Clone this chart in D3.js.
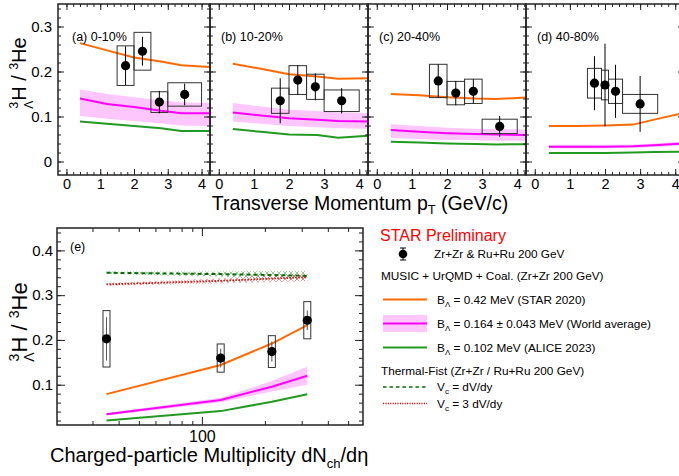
<!DOCTYPE html>
<html lang="en">
<head>
<meta charset="UTF-8">
<title>Hypertriton ratio</title>
<style>
body{margin:0;background:#fff;}
text{font-family:"Liberation Sans",Arial,Helvetica,sans-serif;fill:#000;}
</style>
</head>
<body>
<script src="https://cdn.jsdelivr.net/npm/d3@7/dist/d3.min.js"></script>
<script>
// ---------------- data: pT panels ----------------
var panelNames = ['(a) 0-10%', '(b) 10-20%', '(c) 20-40%', '(d) 40-80%'];
var ptCenters = [[1.75, 2.25, 2.75, 3.5], [1.75, 2.25, 2.75, 3.5], [1.75, 2.25, 2.75, 3.5], [1.7, 2.0, 2.3, 3.0]];
var binLow  = [[1.5, 2.0, 2.5, 3.0], [1.5, 2.0, 2.5, 3.0], [1.5, 2.0, 2.5, 3.0], [1.5, 1.9, 2.1, 2.5]];
var binHigh = [[2.0, 2.5, 3.0, 4.0], [2.0, 2.5, 3.0, 4.0], [2.0, 2.5, 3.0, 4.0], [1.9, 2.1, 2.5, 3.5]];
var ratio   = [[0.213, 0.245, 0.132, 0.149], [0.135, 0.181, 0.166, 0.135], [0.179, 0.152, 0.156, 0.078], [0.174, 0.170, 0.156, 0.128]];
var statErr = [[0.043, 0.032, 0.025, 0.024], [0.050, 0.033, 0.030, 0.028], [0.037, 0.027, 0.027, 0.023], [0.060, 0.092, 0.059, 0.062]];
var sysErr  = [[0.044, 0.042, 0.023, 0.026], [0.028, 0.032, 0.028, 0.024], [0.037, 0.026, 0.027, 0.016], [0.033, 0.033, 0.027, 0.021]];

// model curves (MUSIC + UrQMD + Coal.)
var modelPt = [0.4, 1.2, 2.0, 2.8, 3.4, 4.25];
var starCurve  = [[0.263, 0.247, 0.231, 0.222, 0.214, 0.210], [0.217, 0.206, 0.194, 0.189, 0.184, 0.185], [0.150, 0.147, 0.143, 0.140, 0.139, 0.142], [0.079, 0.079, 0.080, 0.082, 0.093, 0.108]];
var worldCurve = [[0.140, 0.128, 0.121, 0.113, 0.107, 0.107], [0.109, 0.102, 0.096, 0.093, 0.090, 0.089], [0.070, 0.066, 0.063, 0.061, 0.060, 0.059], [0.033, 0.033, 0.033, 0.034, 0.036, 0.040]];
var worldHigh  = [[0.160, 0.150, 0.143, 0.136, 0.131, 0.130], [0.130, 0.122, 0.115, 0.112, 0.109, 0.108], [0.083, 0.079, 0.075, 0.073, 0.072, 0.071], [0.037, 0.037, 0.037, 0.038, 0.040, 0.045]];
var worldLow   = [[0.101, 0.095, 0.090, 0.085, 0.080, 0.079], [0.089, 0.084, 0.079, 0.076, 0.074, 0.073], [0.052, 0.050, 0.048, 0.047, 0.046, 0.046], [0.029, 0.029, 0.029, 0.030, 0.032, 0.036]];
var aliceCurve = [[0.089, 0.084, 0.079, 0.074, 0.068, 0.068], [0.072, 0.066, 0.060, 0.059, 0.053, 0.057], [0.044, 0.042, 0.040, 0.039, 0.038, 0.0385], [0.019, 0.019, 0.019, 0.020, 0.021, 0.022]];

// ---------------- data: multiplicity panel (e) ----------------
var dNch   = [35, 123, 216, 319];
var ratioE = [0.2025, 0.1595, 0.174, 0.244];
var statE  = [0.0485, 0.021, 0.0225, 0.022];
var sysE   = [0.063, 0.0315, 0.0355, 0.0415];
var starE      = [0.079, 0.144, 0.192, 0.233];
var worldE     = [0.034, 0.066, 0.0955, 0.120];
var worldHighE = [0.037, 0.071, 0.108, 0.140];
var worldLowE  = [0.031, 0.061, 0.085, 0.100];
var aliceE     = [0.020, 0.041, 0.062, 0.0786];
var tfV1    = [0.350, 0.347, 0.345, 0.343];
var tfV1Err = [0.003, 0.006, 0.009, 0.011];
var tfV3    = [0.324, 0.332, 0.337, 0.340];
var tfV3Err = [0.003, 0.006, 0.008, 0.009];

var yTicksTop = [0, 0.1, 0.2, 0.3];
var ptTicks = [0, 1, 2, 3, 4];
var yTicksE = [0.1, 0.2, 0.3, 0.4];
var dnchTicks = [100];
var dnchMinor = [30, 40, 50, 60, 70, 80, 90, 200, 300, 400, 500];

// ---------------- layout ----------------
var width = 679, height = 476;
var colOrange = '#ff6a00', colMagenta = '#ff00ff', colBand = '#fdc6fd', colGreen = '#229a22';
var colDash = '#0b6b0b', colDot = '#cc1111', colFrame = '#222';

var svg = d3.select('body').append('svg')
		.attr('width', width)
		.attr('height', height);

var defs = svg.append('defs');
function hatch(id, color) {
	var p = defs.append('pattern')
		.attr('id', id)
		.attr('patternUnits', 'userSpaceOnUse')
		.attr('width', 6).attr('height', 6);
	p.append('path').attr('d', 'M0,0L6,6M0,6L6,0')
		.attr('stroke', color).attr('stroke-width', 0.8).attr('stroke-opacity', 0.6);
}
hatch('hatchGreen', '#2a9a2a');
hatch('hatchRed', '#e05050');

var panelX = [[58, 210], [210, 368], [368, 526], [526, 684]];
var topY = [175, 4];
var yTop = d3.scaleLinear().domain([-0.03, 0.35]).range(topY);

function styleAxis(g) {
	g.select('.domain').remove();
	g.selectAll('line').attr('stroke', colFrame).attr('stroke-width', 1);
	g.selectAll('text').attr('fill', '#000');
}

function lineGen(x, y, xs) {
	return d3.line()
		.x(function(d, i) { return x(xs[i]); })
		.y(function(d) { return y(d); });
}

// ---------------- top panels ----------------
panelNames.forEach(function(name, p) {
	var x = d3.scaleLinear().domain([-0.25, 4.25]).range(panelX[p]);
	var g = svg.append('g');

	// pink band + curves
	var band = d3.area()
		.x(function(d, i) { return x(modelPt[i]); })
		.y0(function(d, i) { return yTop(worldLow[p][i]); })
		.y1(function(d) { return yTop(d); });
	g.append('path').attr('d', band(worldHigh[p])).attr('fill', colBand);
	g.append('path').attr('d', lineGen(x, yTop, modelPt)(starCurve[p]))
		.attr('fill', 'none').attr('stroke', colOrange).attr('stroke-width', 2);
	g.append('path').attr('d', lineGen(x, yTop, modelPt)(worldCurve[p]))
		.attr('fill', 'none').attr('stroke', colMagenta).attr('stroke-width', 2);
	g.append('path').attr('d', lineGen(x, yTop, modelPt)(aliceCurve[p]))
		.attr('fill', 'none').attr('stroke', colGreen).attr('stroke-width', 2);

	// systematic boxes
	g.selectAll('.sys').data(ratio[p]).enter().append('rect')
		.attr('class', 'sys')
		.attr('x', function(d, i) { return x(binLow[p][i]); })
		.attr('width', function(d, i) { return x(binHigh[p][i]) - x(binLow[p][i]); })
		.attr('y', function(d, i) { return yTop(d + sysErr[p][i]); })
		.attr('height', function(d, i) { return yTop(d - sysErr[p][i]) - yTop(d + sysErr[p][i]); })
		.attr('fill', 'none').attr('stroke', '#333').attr('stroke-width', 1);
	// stat bars
	g.selectAll('.stat').data(ratio[p]).enter().append('line')
		.attr('class', 'stat')
		.attr('x1', function(d, i) { return x(ptCenters[p][i]); })
		.attr('x2', function(d, i) { return x(ptCenters[p][i]); })
		.attr('y1', function(d, i) { return yTop(d - statErr[p][i]); })
		.attr('y2', function(d, i) { return yTop(d + statErr[p][i]); })
		.attr('stroke', '#000').attr('stroke-width', 1);
	g.selectAll('.pt').data(ratio[p]).enter().append('circle')
		.attr('class', 'pt')
		.attr('cx', function(d, i) { return x(ptCenters[p][i]); })
		.attr('cy', function(d) { return yTop(d); })
		.attr('r', 4.6).attr('fill', '#000');

	// axes
	g.append('g').attr('transform', 'translate(0,' + topY[0] + ')')
		.call(d3.axisBottom(x).tickValues(ptTicks).tickSize(-6).tickPadding(3).tickFormat(d3.format('d')))
		.call(styleAxis)
		.selectAll('text').attr('font-size', 14.5).attr('dy', '0.74em');
	g.append('g').attr('transform', 'translate(0,' + topY[0] + ')')
		.call(d3.axisBottom(x).tickValues(d3.range(0, 4.21, 0.2)).tickSize(-3).tickFormat(''))
		.call(styleAxis);
	g.append('g').attr('transform', 'translate(0,' + topY[1] + ')')
		.call(d3.axisTop(x).tickValues(ptTicks).tickSize(-6).tickFormat(''))
		.call(styleAxis);
	g.append('g').attr('transform', 'translate(0,' + topY[1] + ')')
		.call(d3.axisTop(x).tickValues(d3.range(0, 4.21, 0.2)).tickSize(-3).tickFormat(''))
		.call(styleAxis);
	var yl = g.append('g').attr('transform', 'translate(' + panelX[p][0] + ',0)')
		.call(d3.axisLeft(yTop).tickValues(yTicksTop).tickSize(-6).tickPadding(4)
			.tickFormat(p === 0 ? d3.format('') : ''))
		.call(styleAxis);
	yl.selectAll('text').attr('font-size', 15).attr('dx', '-2');
	g.append('g').attr('transform', 'translate(' + panelX[p][0] + ',0)')
		.call(d3.axisLeft(yTop).tickValues(d3.range(-0.02, 0.35, 0.02)).tickSize(-3).tickFormat(''))
		.call(styleAxis);
	g.append('g').attr('transform', 'translate(' + panelX[p][1] + ',0)')
		.call(d3.axisRight(yTop).tickValues(yTicksTop).tickSize(-6).tickFormat(''))
		.call(styleAxis);
	g.append('g').attr('transform', 'translate(' + panelX[p][1] + ',0)')
		.call(d3.axisRight(yTop).tickValues(d3.range(-0.02, 0.35, 0.02)).tickSize(-3).tickFormat(''))
		.call(styleAxis);

	g.append('rect')
		.attr('x', panelX[p][0]).attr('y', topY[1])
		.attr('width', panelX[p][1] - panelX[p][0]).attr('height', topY[0] - topY[1])
		.attr('fill', 'none').attr('stroke', colFrame).attr('stroke-width', 1.5);

	g.append('text')
		.attr('x', panelX[p][0] + (p === 0 ? 14 : 11)).attr('y', 41)
		.attr('font-size', 12.5)
		.text(name);
});

svg.append('text')
	.attr('x', 360).attr('y', 210)
	.attr('text-anchor', 'middle').attr('font-size', 19.5)
	.html('Transverse Momentum p<tspan font-size="13" dy="4">T</tspan><tspan dy="-4"> (GeV/c)</tspan>');

function yLabel(cx, cy, fs) {
	var sm = Math.round(fs * 0.62);
	svg.append('text')
		.attr('transform', 'translate(' + cx + ',' + cy + ') rotate(-90)')
		.attr('text-anchor', 'middle')
		.attr('font-size', fs)
		.html('<tspan font-size="' + sm + '" dy="' + (-fs * 0.38) + '">3</tspan>' +
			'<tspan font-size="' + sm + '" dx="' + (-sm * 0.58) + '" dy="' + (fs * 0.72) + '">Λ</tspan>' +
			'<tspan dy="' + (-fs * 0.34) + '">H / </tspan>' +
			'<tspan font-size="' + sm + '" dy="' + (-fs * 0.38) + '">3</tspan>' +
			'<tspan dy="' + (fs * 0.38) + '">He</tspan>');
}
yLabel(26, 73, 20);
yLabel(27, 322, 22);

// ---------------- panel (e) ----------------
var eX = [57, 363], eY = [425, 228];
var xE = d3.scaleLog().domain([20.3, 589]).range(eX);
var yE = d3.scaleLinear().domain([0.01, 0.45]).range(eY);
var ge = svg.append('g');

// thermal-fist hatched bands
function tfBand(vals, errs, fill) {
	var a = d3.area()
		.x(function(d, i) { return xE(dNch[i]); })
		.y0(function(d, i) { return yE(d - errs[i]); })
		.y1(function(d, i) { return yE(d + errs[i]); });
	ge.append('path').attr('d', a(vals)).attr('fill', fill);
}
tfBand(tfV1, tfV1Err, 'url(#hatchGreen)');
tfBand(tfV3, tfV3Err, 'url(#hatchRed)');
ge.append('path').attr('d', lineGen(xE, yE, dNch)(tfV1))
	.attr('fill', 'none').attr('stroke', colDash).attr('stroke-width', 2).attr('stroke-dasharray', '4,3');
ge.append('path').attr('d', lineGen(xE, yE, dNch)(tfV3))
	.attr('fill', 'none').attr('stroke', colDot).attr('stroke-width', 1.8).attr('stroke-dasharray', '1.5,1.5');

var bandE = d3.area()
	.x(function(d, i) { return xE(dNch[i]); })
	.y0(function(d, i) { return yE(worldLowE[i]); })
	.y1(function(d) { return yE(d); });
ge.append('path').attr('d', bandE(worldHighE)).attr('fill', colBand);
ge.append('path').attr('d', lineGen(xE, yE, dNch)(starE))
	.attr('fill', 'none').attr('stroke', colOrange).attr('stroke-width', 2);
ge.append('path').attr('d', lineGen(xE, yE, dNch)(worldE))
	.attr('fill', 'none').attr('stroke', colMagenta).attr('stroke-width', 2);
ge.append('path').attr('d', lineGen(xE, yE, dNch)(aliceE))
	.attr('fill', 'none').attr('stroke', colGreen).attr('stroke-width', 2);

ge.selectAll('.sysE').data(ratioE).enter().append('rect')
	.attr('class', 'sysE')
	.attr('x', function(d, i) { return xE(dNch[i]) - 3.5; })
	.attr('width', 7)
	.attr('y', function(d, i) { return yE(d + sysE[i]); })
	.attr('height', function(d, i) { return yE(d - sysE[i]) - yE(d + sysE[i]); })
	.attr('fill', 'none').attr('stroke', '#333').attr('stroke-width', 1);
ge.selectAll('.statE').data(ratioE).enter().append('line')
	.attr('class', 'statE')
	.attr('x1', function(d, i) { return xE(dNch[i]); })
	.attr('x2', function(d, i) { return xE(dNch[i]); })
	.attr('y1', function(d, i) { return yE(d - statE[i]); })
	.attr('y2', function(d, i) { return yE(d + statE[i]); })
	.attr('stroke', '#555').attr('stroke-width', 1);
ge.selectAll('.ptE').data(ratioE).enter().append('circle')
	.attr('class', 'ptE')
	.attr('cx', function(d, i) { return xE(dNch[i]); })
	.attr('cy', function(d) { return yE(d); })
	.attr('r', 4.6).attr('fill', '#000');

var xb = ge.append('g').attr('transform', 'translate(0,' + eY[0] + ')')
	.call(d3.axisBottom(xE).tickValues(dnchTicks).tickSize(-8).tickPadding(5).tickFormat(d3.format('d')))
	.call(styleAxis);
xb.selectAll('text').attr('font-size', 16).attr('dy', '0.76em');
ge.append('g').attr('transform', 'translate(0,' + eY[0] + ')')
	.call(d3.axisBottom(xE).tickValues(dnchMinor).tickSize(-4).tickFormat(''))
	.call(styleAxis);
ge.append('g').attr('transform', 'translate(0,' + eY[1] + ')')
	.call(d3.axisTop(xE).tickValues(dnchTicks).tickSize(-8).tickFormat(''))
	.call(styleAxis);
ge.append('g').attr('transform', 'translate(0,' + eY[1] + ')')
	.call(d3.axisTop(xE).tickValues(dnchMinor).tickSize(-4).tickFormat(''))
	.call(styleAxis);
var ylE = ge.append('g').attr('transform', 'translate(' + eX[0] + ',0)')
	.call(d3.axisLeft(yE).tickValues(yTicksE).tickSize(-8).tickPadding(4).tickFormat(d3.format('')))
	.call(styleAxis);
ylE.selectAll('text').attr('font-size', 15);
ge.append('g').attr('transform', 'translate(' + eX[0] + ',0)')
	.call(d3.axisLeft(yE).tickValues(d3.range(0.02, 0.45, 0.02)).tickSize(-4).tickFormat(''))
	.call(styleAxis);
ge.append('g').attr('transform', 'translate(' + eX[1] + ',0)')
	.call(d3.axisRight(yE).tickValues(yTicksE).tickSize(-8).tickFormat(''))
	.call(styleAxis);
ge.append('g').attr('transform', 'translate(' + eX[1] + ',0)')
	.call(d3.axisRight(yE).tickValues(d3.range(0.02, 0.45, 0.02)).tickSize(-4).tickFormat(''))
	.call(styleAxis);
ge.append('rect')
	.attr('x', eX[0]).attr('y', eY[1])
	.attr('width', eX[1] - eX[0]).attr('height', eY[0] - eY[1])
	.attr('fill', 'none').attr('stroke', colFrame).attr('stroke-width', 1.5);
ge.append('text').attr('x', 70).attr('y', 251).attr('font-size', 12.5).text('(e)');

svg.append('text')
	.attr('x', 50).attr('y', 462)
	.attr('font-size', 20)
	.html('Charged-particle Multiplicity dN<tspan font-size="13" dy="6">ch</tspan><tspan dy="-6">/dη</tspan>');

// ---------------- legend ----------------
var leg = svg.append('g').attr('font-size', 11.8);
leg.append('text').attr('x', 380).attr('y', 241).attr('font-size', 16).style('fill', '#ff0000').text('STAR Preliminary');
leg.append('line').attr('x1', 403).attr('x2', 403).attr('y1', 248).attr('y2', 260).attr('stroke', '#000');
leg.append('line').attr('x1', 400).attr('x2', 406).attr('y1', 248).attr('y2', 248).attr('stroke', '#000');
leg.append('line').attr('x1', 400).attr('x2', 406).attr('y1', 260).attr('y2', 260).attr('stroke', '#000');
leg.append('circle').attr('cx', 403).attr('cy', 254).attr('r', 4.3).attr('fill', '#000');
leg.append('text').attr('x', 434).attr('y', 258).text('Zr+Zr & Ru+Ru 200 GeV');
leg.append('text').attr('x', 381).attr('y', 280).text('MUSIC + UrQMD + Coal. (Zr+Zr 200 GeV)');

leg.append('line').attr('x1', 383).attr('x2', 427).attr('y1', 299.5).attr('y2', 299.5).attr('stroke', colOrange).attr('stroke-width', 2);
leg.append('rect').attr('x', 383).attr('y', 315).attr('width', 44).attr('height', 17).attr('fill', colBand);
leg.append('line').attr('x1', 383).attr('x2', 427).attr('y1', 323.5).attr('y2', 323.5).attr('stroke', colMagenta).attr('stroke-width', 2);
leg.append('line').attr('x1', 383).attr('x2', 427).attr('y1', 347.5).attr('y2', 347.5).attr('stroke', colGreen).attr('stroke-width', 2);
var bLabels = [['0.42 MeV (STAR 2020)', 304], ['0.164 ± 0.043 MeV (World average)', 328], ['0.102 MeV (ALICE 2023)', 352]];
bLabels.forEach(function(b) {
	leg.append('text').attr('x', 437).attr('y', b[1])
		.html('B<tspan font-size="8" dy="3">Λ</tspan><tspan dy="-3"> = ' + b[0] + '</tspan>');
});
leg.append('text').attr('x', 381).attr('y', 375).text('Thermal-Fist (Zr+Zr / Ru+Ru 200 GeV)');
leg.append('line').attr('x1', 383).attr('x2', 427).attr('y1', 387).attr('y2', 387)
	.attr('stroke', colDash).attr('stroke-width', 1.6).attr('stroke-dasharray', '3.5,3');
leg.append('line').attr('x1', 383).attr('x2', 427).attr('y1', 403.5).attr('y2', 403.5)
	.attr('stroke', colDot).attr('stroke-width', 1.4).attr('stroke-dasharray', '1.2,1.2');
leg.append('text').attr('x', 437).attr('y', 391)
	.html('V<tspan font-size="8" dy="3">c</tspan><tspan dy="-3"> = dV/dy</tspan>');
leg.append('text').attr('x', 437).attr('y', 408)
	.html('V<tspan font-size="8" dy="3">c</tspan><tspan dy="-3"> = 3 dV/dy</tspan>');
</script>
</body>
</html>
